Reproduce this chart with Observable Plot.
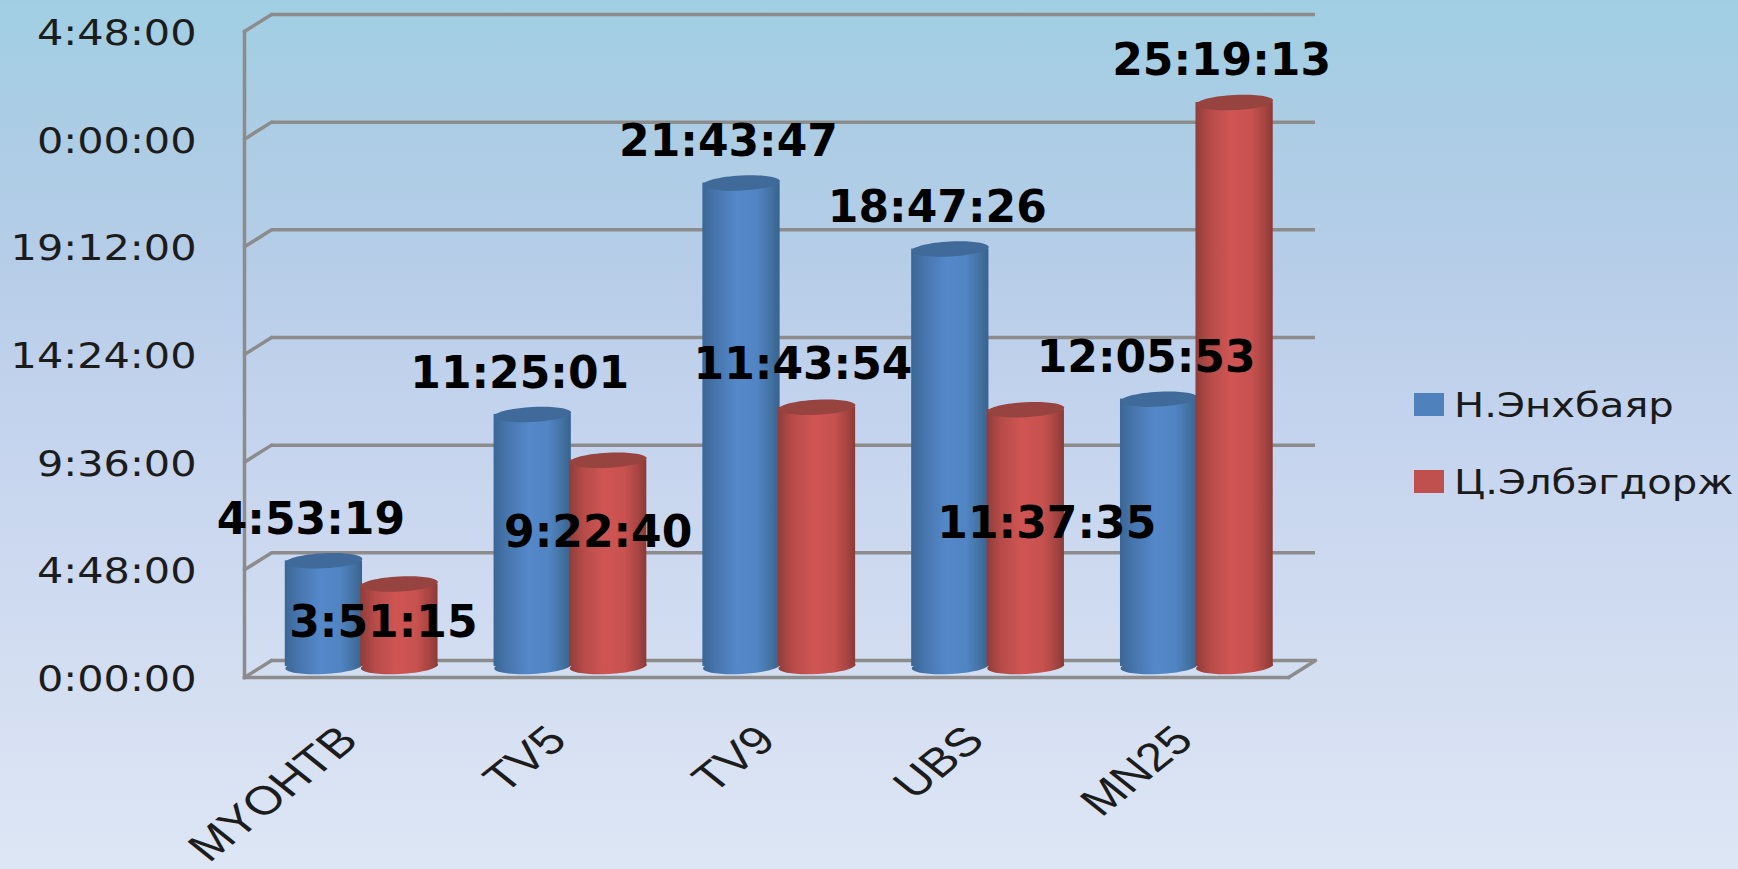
<!DOCTYPE html>
<html><head><meta charset="utf-8">
<script src="https://cdn.jsdelivr.net/npm/d3@7"></script>
<script src="https://cdn.jsdelivr.net/npm/@observablehq/plot@0.6"></script>
<style>
html,body{margin:0;padding:0;width:1738px;height:869px;overflow:hidden;background:#d5e0f2}
#wrap{position:relative;width:1738px;height:869px}
.lg{position:absolute;left:1414px;display:flex;align-items:center;height:40px;font-family:"DejaVu Sans";font-size:34px;color:#1a1a1a;white-space:nowrap}
.lg i{display:block;width:30px;height:23px;margin-right:10px}
.lg span{display:inline-block;transform-origin:left center;transform:translateY(1px) scaleX(1.18)}
</style></head><body><div id="wrap"></div>
<script>
const channels = ["MYOHTB","TV5","TV9","UBS","MN25"];
const seriesNames = ["Н.Энхбаяр","Ц.Элбэгдорж"];
const enkhbayar = ["4:53:19","11:25:01","21:43:47","18:47:26","12:05:53"];
const elbegdorj = ["3:51:15","9:22:40","11:43:54","11:37:35","25:19:13"];
const yTicks = [0,4.8,9.6,14.4,19.2,24,28.8];
const seriesColors = ["#4f81bd","#c0504d"];

const hours = s => { const [h,m,t] = s.split(":").map(Number); return h + m/60 + t/3600; };
const rowsOf = arr => arr.map((label,i)=>({channel:channels[i],label,value:hours(label)}));
const blue = rowsOf(enkhbayar), red = rowsOf(elbegdorj);
const tickFmt = h => { const t = Math.round(h*60), hh = Math.floor(t/60)%24, mm = t%60; return `${hh}:${String(mm).padStart(2,"0")}:00`; };

const ellipse = {draw(c){
  const a=38.5,b=7.5,k=0.5523,th=-3*Math.PI/180,cs=Math.cos(th),sn=Math.sin(th);
  const p=(x,y)=>[x*cs-y*sn,x*sn+y*cs];
  c.moveTo(...p(-a,0));
  c.bezierCurveTo(...p(-a,-k*b),...p(-k*a,-b),...p(0,-b));
  c.bezierCurveTo(...p(k*a,-b),...p(a,-k*b),...p(a,0));
  c.bezierCurveTo(...p(a,k*b),...p(k*a,b),...p(0,b));
  c.bezierCurveTo(...p(-k*a,b),...p(-a,k*b),...p(-a,0));
  c.closePath();
}};
const lineShape = {draw(c,l){c.moveTo(0,0);c.lineTo(0,-l);}};

function defs(){
  const d = d3.create("svg:defs");
  const mk=(id,stops)=>{const g=d.append("linearGradient").attr("id",id);
    stops.forEach(([o,c])=>g.append("stop").attr("offset",o).attr("stop-color",c));};
  mk("gb",[[0,"#3b6696"],[.18,"#4776ae"],[.45,"#5488c9"],[.72,"#5084c2"],[.9,"#42709f"],[1,"#386290"]]);
  mk("gr",[[0,"#8f3d39"],[.18,"#b54b48"],[.45,"#cf5553"],[.72,"#c8524f"],[.9,"#a54441"],[1,"#8a3a37"]]);
  return d.node();
}

const gridColor="#8c8c8c", gw=3.5;
const depthX=27, depthY=-17, baseDy=-9, topDy=-7, floorDy=-11, blueDx=-25, redDx=50.5;
const cyl=(rows,dx,grad,top)=>[
  Plot.dot(rows,{x:"channel",y:()=>0,dx,dy:floorDy,symbol:ellipse,fill:`url(#${grad})`}),
  Plot.rectY(rows,{x:"channel",y1:()=>0.18,y2:"value",dx,dy:topDy,fill:`url(#${grad})`}),
  Plot.dot(rows,{x:"channel",y:"value",dx,dy:topDy,symbol:ellipse,fill:top})
];
const labelFont={fontSize:44,fontWeight:"bold",fill:"#000",fontFamily:"DejaVu Sans"};
const redPlace=[[-16,41],[-10,75],[-14,-40],[21,116],[-13,-40]];

const chart = Plot.plot({
  width:1738,height:869,marginLeft:244,marginRight:450,marginTop:31,marginBottom:192,
  style:{background:"linear-gradient(180deg,#a0cfe3 0%,#aacde4 12%,#b6cde8 30%,#c5d4ee 50%,#cfdbf0 70%,#d8e2f3 88%,#dde6f5 100%)",fontFamily:"DejaVu Sans",overflow:"hidden"},
  x:{type:"band",domain:channels,paddingInner:.63,paddingOuter:.315,round:false,label:null},
  y:{domain:[0,28.8],label:null,ticks:yTicks},
  marks:[
    defs,
    Plot.ruleY(yTicks,{y:d=>d,dx:depthX,dy:depthY,stroke:gridColor,strokeWidth:gw,strokeOpacity:1}),
    Plot.vector(yTicks,{y:d=>d,frameAnchor:"left",length:32,rotate:57.8,anchor:"start",shape:lineShape,stroke:gridColor,strokeWidth:gw}),
    Plot.vector([0],{y:d=>d,frameAnchor:"right",length:32,rotate:57.8,anchor:"start",shape:lineShape,stroke:gridColor,strokeWidth:gw}),
    Plot.frame({anchor:"left",stroke:gridColor,strokeWidth:gw}),
    Plot.frame({anchor:"bottom",stroke:gridColor,strokeWidth:gw}),
    Plot.axisY({ticks:yTicks,tickFormat:tickFmt,tickSize:0,tickPadding:48,fontSize:36,fill:"#1c1c1c",label:null,dy:2}),
    Plot.axisX({tickSize:0,tickRotate:-45,tickPadding:56,fontSize:40,fill:"#1c1c1c",fontFamily:"Liberation Sans",label:null}),
    ...cyl(blue,blueDx,"gb","#3f6a9a"),
    ...cyl(red,redDx,"gr","#97433f"),
    Plot.text(blue,{x:"channel",y:"value",text:"label",dx:blueDx-13,dy:baseDy-39,...labelFont}),
    ...red.map((r,i)=>Plot.text([r],{x:"channel",y:"value",text:"label",dx:redDx+redPlace[i][0],dy:baseDy+redPlace[i][1],...labelFont}))
  ]
});
const wrap=document.getElementById("wrap");
wrap.appendChild(chart);
seriesNames.forEach((n,i)=>{
  const d=document.createElement("div");d.className="lg";d.style.top=(i?461:384)+"px";
  const sw=document.createElement("i");sw.style.background=seriesColors[i];
  const t=document.createElement("span");t.textContent=n;
  d.append(sw,t);wrap.appendChild(d);
});
chart.querySelectorAll('[aria-label="y-axis tick label"] text').forEach(t=>{
  t.setAttribute("textLength",t.getComputedTextLength()*1.15);
  t.setAttribute("lengthAdjust","spacingAndGlyphs");
});
chart.querySelectorAll('[aria-label="x-axis tick label"] text').forEach(t=>{
  const tr=t.getAttribute("transform")||"";
  t.setAttribute("transform",tr.replace(" rotate"," scale(1.25,1) rotate"));
});
</script></body></html>
